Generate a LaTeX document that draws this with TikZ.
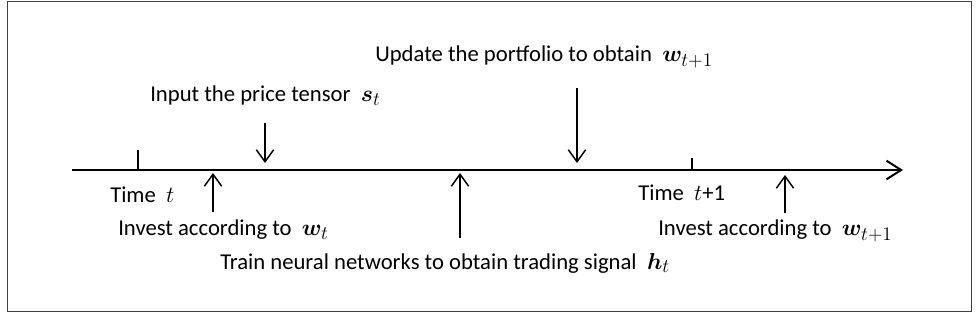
\documentclass[tikz,border=0pt]{standalone}
\usepackage{amsmath}
\usepackage{bm}
\usepackage{fontspec}
\setmainfont{Carlito}
\DeclareMathSizes{17}{18}{14}{11}
\usetikzlibrary{arrows.meta}
\begin{document}
\begin{tikzpicture}[x=0.75pt,y=-0.75pt,
  font=\fontsize{17}{20}\selectfont,
  lbl/.style={anchor=west,inner sep=0pt},
  evarrow/.style={line width=1.1pt,-{Straight Barb[length=9pt,width=13pt,line width=1.1pt]}},
  axisline/.style={line width=1.5pt,-{Straight Barb[length=11pt,width=14pt,line width=1.5pt]}},
  tick/.style={line width=1.3pt}]
\useasboundingbox (0,0) rectangle (977,318);
\draw[line width=0.7pt, black!75] (7,1.5) rectangle (971.5,311);

% axis
\coordinate (a0) at (72,170);
\coordinate (a1) at (903,170);
\draw[axisline] (a0) -- (a1);

% ticks
\coordinate (t0) at (138,170); \coordinate (t0u) at (138,150);
\coordinate (t1) at (692,170); \coordinate (t1u) at (692,158);
\draw[tick] (t0) -- (t0u);
\draw[tick] (t1) -- (t1u);

% labels
\node[lbl] (update) at (375,57) {Update the portfolio to obtain \ $\bm{w}_{t+1}$};
\node[lbl] (input) at (150,96) {Input the price tensor \ $\bm{s}_t$};
\node[lbl] (timet) at (110,195) {Time \ $t$};
\node[lbl] (timet1) at (638,193) {Time \ $t$+1};
\node[lbl] (invt) at (118,230) {Invest according to \ $\bm{w}_t$};
\node[lbl] (invt1) at (658,231) {Invest according to \ $\bm{w}_{t+1}$};
\node[lbl] (train) at (220,263) {Train neural networks to obtain trading signal \ $\bm{h}_t$};

% event arrows
\coordinate (d1s) at (265,123); \coordinate (d1e) at (265,163);
\coordinate (d2s) at (577,88);  \coordinate (d2e) at (577,163);
\coordinate (u1s) at (213,212); \coordinate (u1e) at (213,173);
\coordinate (u2s) at (460,238); \coordinate (u2e) at (460,173);
\coordinate (u3s) at (785,213); \coordinate (u3e) at (785,175);
\draw[evarrow] (d1s) -- (d1e);
\draw[evarrow] (d2s) -- (d2e);
\draw[evarrow] (u1s) -- (u1e);
\draw[evarrow] (u2s) -- (u2e);
\draw[evarrow] (u3s) -- (u3e);
\end{tikzpicture}
\end{document}
